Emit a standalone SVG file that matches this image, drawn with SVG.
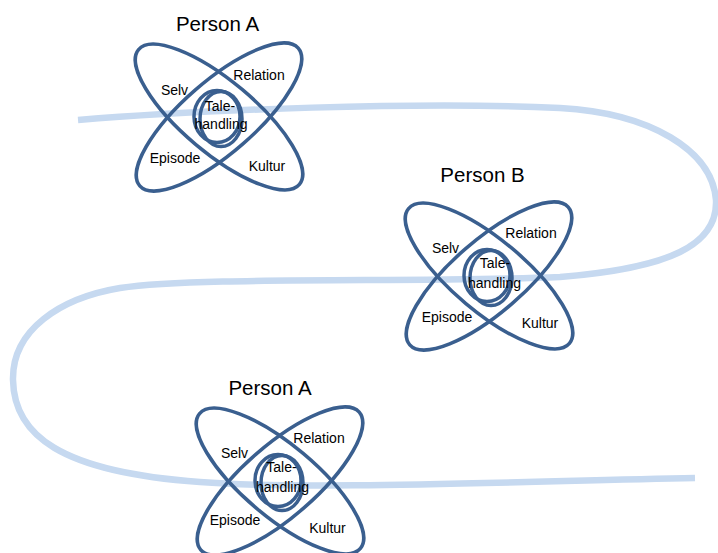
<svg xmlns="http://www.w3.org/2000/svg" xmlns:xlink="http://www.w3.org/1999/xlink" width="718" height="553" viewBox="0 0 718 553">
<style>
.petal{fill:none;stroke:#3A5F8F;stroke-width:3.5}
.flow{fill:none;stroke:#C6D9F0;stroke-width:6.5;stroke-linecap:butt}
text{font-family:"Liberation Sans",Arial,sans-serif;fill:#000;text-anchor:middle}
.title{font-size:20.5px}
.lbl{font-size:14px}
</style>
<defs>
<g id="flower" class="petal">
<ellipse cx="0" cy="0" rx="105" ry="36" transform="rotate(40)"/>
<ellipse cx="0" cy="0" rx="105" ry="36" transform="rotate(-41)"/>
<ellipse cx="-2" cy="-0.5" rx="23" ry="26"/>
<ellipse cx="2" cy="2" rx="21" ry="27.5"/>
</g>
</defs>
<rect width="718" height="553" fill="#fff"/>
<g id="connectors">
<path class="flow" d="M78,120 C200,110 420,101 560,108 C650,113 712,150 716,200 C718,245 670,268 560,277 C420,283 200,276 120,288 C60,298 12,330 13,380 C14,435 60,472 200,482 C300,490 500,482 695,478"/>
</g>
<g id="personA1">
<use xlink:href="#flower" href="#flower" x="219" y="117"/>
<text class="title" x="217.5" y="31">Person A</text>
<text class="lbl" x="174.5" y="95">Selv</text>
<text class="lbl" x="259" y="80">Relation</text>
<text class="lbl" x="220" y="111">Tale-</text>
<text class="lbl" x="221" y="129">handling</text>
<text class="lbl" x="175" y="163">Episode</text>
<text class="lbl" x="267" y="171">Kultur</text>
</g>
<g id="personB">
<use xlink:href="#flower" href="#flower" x="489" y="276"/>
<text class="title" x="482.5" y="182">Person B</text>
<text class="lbl" x="445.5" y="253">Selv</text>
<text class="lbl" x="531" y="238">Relation</text>
<text class="lbl" x="495" y="268">Tale-</text>
<text class="lbl" x="494.5" y="288">handling</text>
<text class="lbl" x="447" y="322">Episode</text>
<text class="lbl" x="540" y="328">Kultur</text>
</g>
<g id="personA2">
<use xlink:href="#flower" href="#flower" x="280" y="481"/>
<text class="title" x="270" y="395">Person A</text>
<text class="lbl" x="234.5" y="458">Selv</text>
<text class="lbl" x="319" y="443">Relation</text>
<text class="lbl" x="281.5" y="472">Tale-</text>
<text class="lbl" x="282.5" y="492">handling</text>
<text class="lbl" x="235" y="525">Episode</text>
<text class="lbl" x="327.5" y="533">Kultur</text>
</g>
</svg>
